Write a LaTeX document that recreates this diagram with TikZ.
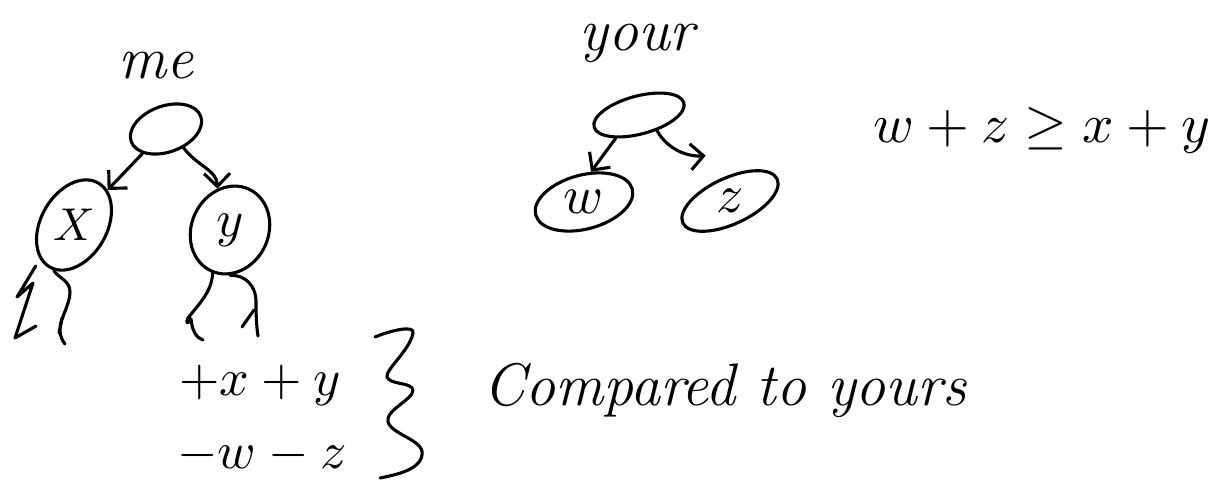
\documentclass[tikz,border=0pt]{standalone}
\usepackage{graphicx}
\usetikzlibrary{arrows.meta,shapes.geometric}
\begin{document}
\begin{tikzpicture}[x=1pt,y=-1pt,
  hand/.style={line width=3.1pt, line cap=round, line join=round},
  bub/.style={draw, ellipse, hand, inner sep=0pt},
  arr/.style={hand, -{Straight Barb[length=13pt,width=26pt]}},
  lab/.style={font=\fontsize{60}{70}\selectfont\itshape, inner sep=0pt},
  var/.style={inner sep=0pt},
  eq/.style={inner sep=0pt},
]
\fill[white] (0,0) rectangle (1225,498);
\useasboundingbox (0,0) rectangle (1225,498);

% ---- "me" tree
\node[lab, anchor=base] (me) at (156,78) {me};
\node[bub, minimum width=74pt, minimum height=46pt, rotate=20] (rA) at (166,129) {};
\node[bub, minimum width=97pt, minimum height=66pt, rotate=60] (X) at (74,225) {};
\node[var] (Xl) at (X) {\scalebox{4.6}{$X$}};
\node[bub, minimum width=90pt, minimum height=77pt, rotate=65] (Y) at (230,230) {};
\node[var] (Yl) at (Y) {\scalebox{5.2}{$y$}};

\draw[arr] (rA) -- (X);
\draw[arr] (rA.-67) .. controls (197,166) and (217,170) .. (Y.42);

% children stubs under X and y
\draw[hand, shorten <=8pt] (X.165) -- (17,297) -- (33,283) -- (15,338) -- (36,326);
\draw[hand] (X.186) .. controls (58,278) and (70,280) .. (70,292)
  .. controls (70,305) and (60,318) .. (60,330) .. controls (60,336) and (62,340) .. (65,344);
\draw[hand] (59,333) -- (62,318);
\draw[hand] (Y.183) .. controls (212,292) and (198,305) .. (188,318)
  .. controls (185,323) and (188,325) .. (191,319) .. controls (192,330) and (196,338) .. (203,340);
\draw[hand] (Y.205) .. controls (245,275) and (257,285) .. (256,305)
  .. controls (256,318) and (257,330) .. (258,336);
\draw[hand] (242,327) -- (254,310);

% ---- "your" tree
\node[lab, anchor=base] (your) at (637,50) {your};
\node[bub, minimum width=93pt, minimum height=38pt, rotate=15] (rB) at (639,115) {};
\node[bub, minimum width=100pt, minimum height=54pt, rotate=15] (w) at (584,202) {};
\node[var] (wl) at (w) {\scalebox{5.4}{$w$}};
\node[bub, minimum width=104pt, minimum height=46pt, rotate=25] (z) at (730,201) {};
\node[var] (zl) at (z) {\scalebox{5.4}{$z$}};
\coordinate (zin) at ([shift={(-10,-25)}]z.100);

\draw[arr] (rB.210) -- (w.62);
\draw[arr] (rB.-56) .. controls (668,150) and (688,157) .. (zin);

% ---- relation
\node[eq, anchor=base] (rel) at (1042,142) {\scalebox{5.5}{$w+z\geq x+y$}};

% ---- bottom
\node[eq, anchor=base] (pxy) at (260,395) {\scalebox{5.2}{$+x+y$}};
\node[eq, anchor=base] (mwz) at (262,468) {\scalebox{5.2}{$-w-z$}};
\draw[hand] (375,337) .. controls (392,330) and (415,325) .. (413,333)
  .. controls (410,350) and (385,370) .. (387,377)
  .. controls (390,385) and (412,382) .. (413,390)
  .. controls (413,400) and (385,410) .. (388,422)
  .. controls (392,435) and (425,440) .. (422,455)
  .. controls (420,470) and (395,475) .. (380,478);
\node[lab, anchor=base west] (cmp) at (483,405) {Compared to yours};
\end{tikzpicture}
\end{document}
